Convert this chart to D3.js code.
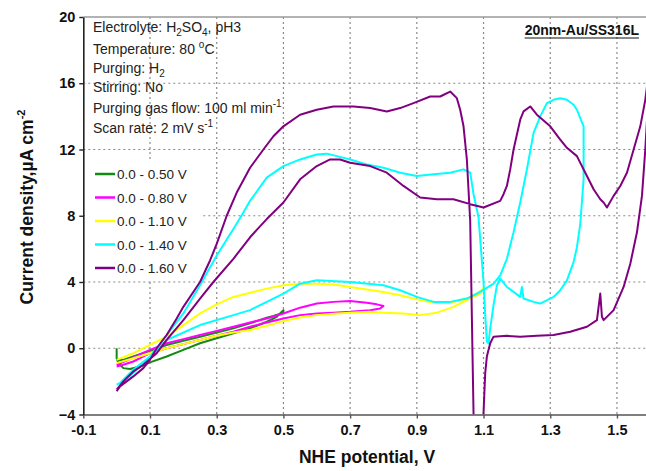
<!DOCTYPE html>
<html>
<head>
<meta charset="utf-8">
<script src="https://cdn.jsdelivr.net/npm/d3@7"></script>
<style>
  body { margin: 0; background: #fff; }
  svg { display: block; font-family: "Liberation Sans", Arial, sans-serif; }
</style>
</head>
<body>
<svg id="chart" width="646" height="471"></svg>
<script>
// Tick values
const xTicks = [-0.1, 0.1, 0.3, 0.5, 0.7, 0.9, 1.1, 1.3, 1.5];
const yTicks = [-4, 0, 4, 8, 12, 16, 20];

// Legend labels (one per scan window)
const scanLabels = ["0.0 - 0.50 V", "0.0 - 0.80 V", "0.0 - 1.10 V", "0.0 - 1.40 V", "0.0 - 1.60 V"];

// [potential V, current density uA/cm2], in scan order
const scan050 = [[0.0,0.0],[0.0,-0.6],[0.005,-0.9],[0.02,-1.2],[0.04,-1.25],[0.07,-1.1],[0.10,-0.85],[0.15,-0.5],
  [0.20,-0.1],[0.25,0.3],[0.30,0.6],[0.35,0.9],[0.40,1.2],[0.45,1.6],[0.48,1.9],[0.50,2.3],[0.50,2.15],[0.47,1.95],
  [0.45,1.85],[0.40,1.5],[0.35,1.2],[0.30,0.95],[0.25,0.7],[0.20,0.45],[0.15,0.2],[0.10,-0.15],[0.05,-0.5],[0.02,-0.7],[0.0,-0.75]];

const scan080 = [[0.0,-1.0],[0.03,-0.75],[0.05,-0.55],[0.10,-0.1],[0.15,0.3],[0.20,0.55],[0.25,0.8],[0.30,1.05],
  [0.35,1.3],[0.40,1.55],[0.45,1.8],[0.50,2.1],[0.55,2.45],[0.60,2.7],[0.65,2.8],[0.70,2.85],[0.75,2.75],[0.78,2.65],
  [0.80,2.55],[0.79,2.4],[0.76,2.3],[0.70,2.2],[0.65,2.15],[0.60,2.1],[0.55,2.0],[0.50,1.8],[0.45,1.55],[0.40,1.3],
  [0.35,1.0],[0.30,0.75],[0.25,0.5],[0.20,0.25],[0.15,0.0],[0.10,-0.3],[0.05,-0.8],[0.02,-1.0],[0.0,-1.1]];

const scan110 = [[0.0,-0.7],[0.05,-0.3],[0.10,0.2],[0.15,0.7],[0.20,1.4],[0.25,2.1],[0.30,2.65],[0.35,3.1],[0.40,3.35],
  [0.45,3.6],[0.50,3.8],[0.55,3.9],[0.60,3.9],[0.65,3.85],[0.70,3.7],[0.75,3.55],[0.80,3.4],[0.85,3.2],[0.90,2.95],
  [0.95,2.75],[1.00,2.75],[1.05,3.0],[1.08,3.3],[1.10,3.6],[1.09,3.3],[1.05,2.9],[1.01,2.5],[0.96,2.15],[0.91,2.0],
  [0.86,2.1],[0.80,2.15],[0.76,2.2],[0.70,2.15],[0.66,2.1],[0.60,2.0],[0.55,1.85],[0.50,1.65],[0.45,1.35],[0.40,1.1],
  [0.35,0.95],[0.30,0.75],[0.25,0.5],[0.20,0.25],[0.15,0.0],[0.10,-0.3],[0.05,-0.6],[0.0,-0.9]];

const scan140 = [[0.0,-2.2],[0.02,-2.0],[0.05,-1.5],[0.08,-0.9],[0.10,-0.5],[0.12,0.0],[0.15,0.8],[0.20,2.1],[0.25,3.8],
  [0.30,5.6],[0.35,7.2],[0.38,8.2],[0.40,8.9],[0.45,10.3],[0.50,11.0],[0.55,11.4],[0.60,11.7],[0.63,11.75],[0.66,11.6],
  [0.70,11.4],[0.75,11.1],[0.80,10.9],[0.85,10.6],[0.90,10.4],[0.95,10.5],[1.00,10.6],[1.04,10.8],[1.06,10.6],
  [1.07,9.3],[1.085,7.9],[1.10,4.0],[1.105,2.0],[1.11,0.4],[1.115,0.3],[1.12,1.2],[1.13,2.6],[1.14,3.8],[1.15,4.2],
  [1.17,3.7],[1.21,3.1],[1.215,3.7],[1.22,3.0],[1.25,2.8],[1.27,2.7],[1.31,3.1],[1.33,3.5],[1.35,4.1],[1.37,5.2],
  [1.38,6.1],[1.39,7.5],[1.40,10.2],[1.40,13.4],[1.38,14.4],[1.37,14.7],[1.35,15.0],[1.33,15.1],[1.31,15.0],[1.29,14.8],
  [1.27,14.0],[1.25,13.0],[1.23,10.8],[1.21,8.8],[1.19,7.0],[1.17,5.4],[1.15,4.4],[1.13,3.9],[1.09,3.4],[1.05,3.0],
  [1.00,2.8],[0.95,2.8],[0.90,3.1],[0.85,3.5],[0.80,3.8],[0.70,4.0],[0.60,4.1],[0.55,3.9],[0.50,3.3],[0.45,2.8],
  [0.40,2.3],[0.35,2.0],[0.25,1.4],[0.15,0.5],[0.10,-0.5],[0.05,-1.3],[0.01,-2.1]];

const scan160 = [[0.0,-2.6],[0.01,-2.3],[0.03,-2.0],[0.05,-1.7],[0.08,-1.2],[0.10,-0.7],[0.12,0.0],[0.15,0.8],[0.18,1.8],
  [0.20,2.5],[0.25,4.0],[0.28,5.3],[0.30,6.3],[0.33,8.0],[0.36,9.4],[0.40,10.9],[0.44,12.0],[0.47,12.8],[0.50,13.4],
  [0.55,14.1],[0.60,14.4],[0.65,14.6],[0.71,14.6],[0.76,14.5],[0.81,14.3],[0.85,14.5],[0.89,14.8],[0.94,15.2],
  [0.97,15.2],[1.00,15.5],[1.02,15.1],[1.03,14.4],[1.04,13.4],[1.05,11.4],[1.06,7.7],[1.07,-3.9],[1.075,-6],[1.095,-6],
  [1.10,-3.9],[1.105,-1.5],[1.11,-0.5],[1.12,0.3],[1.13,0.7],[1.17,0.75],[1.21,0.7],[1.26,0.75],[1.31,0.8],[1.36,1.0],
  [1.41,1.3],[1.44,1.7],[1.45,3.3],[1.455,1.9],[1.46,1.7],[1.49,2.3],[1.52,3.7],[1.54,5.1],[1.56,7.0],[1.575,9.2],
  [1.585,12.0],[1.595,15.5],[1.60,16.5],[1.59,15.8],[1.585,15.0],[1.57,13.4],[1.55,12.0],[1.53,10.6],[1.51,9.8],
  [1.49,9.2],[1.47,8.5],[1.46,8.8],[1.45,9.0],[1.43,9.6],[1.41,10.4],[1.38,11.6],[1.35,12.1],[1.33,12.6],[1.30,13.4],
  [1.26,14.1],[1.24,14.6],[1.22,14.3],[1.21,13.8],[1.19,12.0],[1.18,10.8],[1.17,9.8],[1.16,9.3],[1.15,8.9],[1.10,8.5],
  [1.06,8.7],[1.01,9.0],[0.96,9.0],[0.91,9.1],[0.86,9.8],[0.81,10.6],[0.76,11.0],[0.70,11.2],[0.67,11.4],[0.64,11.4],
  [0.60,11.0],[0.55,10.2],[0.50,8.8],[0.45,7.8],[0.42,7.15],[0.40,6.7],[0.35,5.4],[0.29,4.0],[0.25,3.0],[0.20,1.7],
  [0.15,0.5],[0.12,-0.3],[0.08,-1.0],[0.05,-1.4],[0.02,-2.0],[0.0,-2.5]];

const scans = [scan050, scan080, scan110, scan140, scan160];

const svg = d3.select("#chart");

const x = d3.scaleLinear().domain([-0.1, 1.6]).range([83.3, 650.3]);
const y = d3.scaleLinear().domain([-4, 20]).range([414.5, 17]);

const color = d3.scaleOrdinal()
    .domain(scanLabels)
    .range(["#138a13", "#ff00ff", "#ffff00", "#00ffff", "#800080"]);

// Grid (dotted)
const grid = svg.append("g").attr("stroke", "#8a8a8a").attr("stroke-width", 1.2).attr("stroke-dasharray", "2,3");
xTicks.filter(d => d > -0.1).forEach(d => {
    grid.append("line").attr("x1", x(d)).attr("x2", x(d)).attr("y1", y(20)).attr("y2", y(-4));
});
yTicks.filter(d => d > -4 && d < 20).forEach(d => {
    grid.append("line").attr("x1", x(-0.1)).attr("x2", 646).attr("y1", y(d)).attr("y2", y(d));
});

// top border
svg.append("line")
    .attr("x1", x(-0.1)).attr("x2", 650).attr("y1", y(20)).attr("y2", y(20))
    .attr("stroke", "#9a9a9a").attr("stroke-width", 1.5);

// Legend box covers the grid
const legend = svg.append("g");
legend.append("rect")
    .attr("x", 85).attr("y", 160).attr("width", 118).attr("height", 120)
    .attr("fill", "#fff");

// Curves
svg.append("clipPath").attr("id", "plotClip")
    .append("rect")
    .attr("x", x(-0.1)).attr("y", y(20))
    .attr("width", x(1.6) - x(-0.1)).attr("height", y(-4) - y(20));

const line = d3.line().x(d => x(d[0])).y(d => y(d[1]));

svg.append("g").attr("clip-path", "url(#plotClip)")
    .selectAll("path")
    .data(scans)
    .enter()
    .append("path")
    .attr("d", line)
    .attr("fill", "none")
    .attr("stroke", (d, i) => color(scanLabels[i]))
    .attr("stroke-width", 2)
    .attr("stroke-linejoin", "round");

// Axes
const xAxis = svg.append("g")
    .attr("transform", `translate(0,${y(-4)})`)
    .call(d3.axisBottom(x).tickValues(xTicks).tickSize(4).tickSizeOuter(0).tickPadding(6)
        .tickFormat(d => d.toFixed(1)));
xAxis.select(".domain").attr("stroke", "#555").attr("stroke-width", 1.6);
xAxis.selectAll(".tick line").attr("stroke", "#555").attr("stroke-width", 1.4);
xAxis.selectAll("text")
    .style("font-size", "14.5px").style("font-weight", "bold")
    .style("font-family", "Liberation Sans, Arial").attr("fill", "#111");

const yAxis = svg.append("g")
    .attr("transform", `translate(${x(-0.1)},0)`)
    .call(d3.axisLeft(y).tickValues(yTicks).tickSize(4).tickSizeOuter(0).tickPadding(4));
yAxis.select(".domain").attr("stroke", "#222").attr("stroke-width", 1.6);
yAxis.selectAll(".tick line").attr("stroke", "#222").attr("stroke-width", 1.4);
yAxis.selectAll("text")
    .style("font-size", "14.5px").style("font-weight", "bold")
    .style("font-family", "Liberation Sans, Arial").attr("fill", "#111");

// Axis titles
svg.append("text")
    .attr("x", 367).attr("y", 463)
    .attr("text-anchor", "middle")
    .style("font-size", "17.5px").style("font-weight", "bold").attr("fill", "#111")
    .text("NHE potential, V");

const yTitle = svg.append("text")
    .attr("transform", "translate(33,207) rotate(-90)")
    .attr("text-anchor", "middle")
    .style("font-size", "17.5px").style("font-weight", "bold").attr("fill", "#111");
yTitle.append("tspan").text("Current density,\u00b5A cm");
yTitle.append("tspan").attr("dy", -8).style("font-size", "11px").text("-2");

// Conditions text
function richText(parent, px, py, parts) {
    const t = parent.append("text").attr("x", px).attr("y", py)
        .style("font-size", "14px").attr("fill", "#222");
    parts.forEach(p => {
        const s = t.append("tspan").text(p[0]);
        if (p[1] === "sub") s.style("font-size", "10px").attr("dy", 4);
        if (p[1] === "sup") s.style("font-size", "10px").attr("dy", -6);
        if (p[1] === "back") s.attr("dy", p[2]);
    });
    return t;
}
const notes = svg.append("g");
richText(notes, 93, 32, [["Electrolyte: H"], ["2", "sub"], ["SO", "back", -4], ["4", "sub"], [", pH3", "back", -4]]);
richText(notes, 93, 54, [["Temperature: 80 "], ["o", "sup"], ["C", "back", 6]]);
richText(notes, 93, 73, [["Purging: H"], ["2", "sub"]]);
richText(notes, 93, 92, [["Stirring: No"]]);
richText(notes, 93, 113, [["Purging gas flow: 100 ml min"], ["-1", "sup"]]);
richText(notes, 93, 133, [["Scan rate: 2 mV s"], ["-1", "sup"]]);

// Sample label, underlined
const tag = svg.append("text")
    .attr("x", 639).attr("y", 35).attr("text-anchor", "end")
    .style("font-size", "14px").style("font-weight", "bold").attr("fill", "#111")
    .text("20nm-Au/SS316L");
const tagLen = tag.node().getComputedTextLength();
svg.append("line")
    .attr("x1", 639 - tagLen).attr("x2", 639).attr("y1", 38).attr("y2", 38)
    .attr("stroke", "#111").attr("stroke-width", 1.2);

// Legend entries
scanLabels.forEach((lab, i) => {
    const cy = 174 + i * 23.5;
    legend.append("line")
        .attr("x1", 95).attr("x2", 115).attr("y1", cy).attr("y2", cy)
        .attr("stroke", color(lab)).attr("stroke-width", 2.5);
    legend.append("text")
        .attr("x", 117).attr("y", cy + 5)
        .style("font-size", "13.5px").attr("fill", "#222")
        .text(lab);
});
</script>
</body>
</html>
